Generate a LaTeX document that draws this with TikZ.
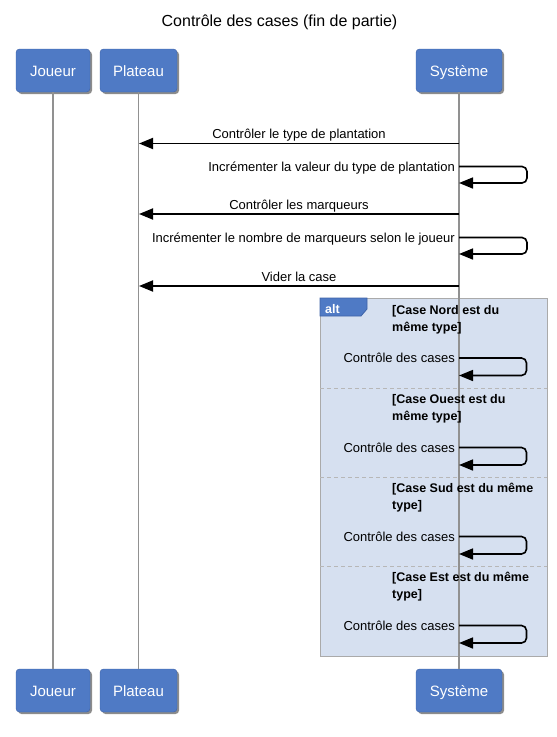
\documentclass[tikz,border=0pt]{standalone}
\usepackage{fontspec}
\setmainfont{Liberation Sans}
\usetikzlibrary{arrows.meta,shadows}
\definecolor{partblue}{RGB}{79,122,197}
\definecolor{partborder}{RGB}{62,99,168}
\definecolor{framefill}{RGB}{214,224,240}
\definecolor{frameline}{RGB}{170,170,170}
\definecolor{lifegray}{RGB}{145,145,145}
\tikzset{
  part/.style={draw=partborder, fill=partblue, rounded corners=3.5pt, text=white,
    font=\fontsize{15}{18}\selectfont, minimum height=43pt, inner sep=0pt, text depth=0pt, text height=11pt,
    drop shadow={shadow xshift=2pt, shadow yshift=-2pt, opacity=0.45, fill=black}},
  life/.style={draw=lifegray, line width=1.7pt},
  msg/.style={line width=1.8pt, -{Triangle[length=14pt,width=11pt]}},
  selfmsg/.style={line width=1.6pt, rounded corners=5pt, -{Triangle[length=14pt,width=11pt]}},
  lbl/.style={font=\fontsize{13}{15}\selectfont, inner sep=0pt, anchor=base},
  slbl/.style={font=\fontsize{13}{15}\selectfont, inner sep=0pt, anchor=base east},
  guard/.style={font=\bfseries\fontsize{12.5}{17}\selectfont, inner sep=0pt, anchor=base west, align=left},
  sepline/.style={draw=frameline!85, line width=1pt, dash pattern=on 4pt off 3pt},
}
\begin{document}
\begin{tikzpicture}[x=1pt,y=-1pt]
\useasboundingbox (0,0) rectangle (557,737);
% title
\node[font=\fontsize{16}{19}\selectfont, inner sep=0pt, anchor=base] (title) at (279.5,26) {Contrôle des cases (fin de partie)};
% participants
\node[part, minimum width=74pt] (jT) at (53,70.5) {Joueur};
\node[part, minimum width=77pt] (pT) at (138.5,70.5) {Plateau};
\node[part, minimum width=86pt] (sT) at (459,70.5) {Système};
\node[part, minimum width=74pt] (jB) at (53,690.5) {Joueur};
\node[part, minimum width=77pt] (pB) at (138.5,690.5) {Plateau};
\node[part, minimum width=86pt] (sB) at (459,690.5) {Système};
% alt frame
\node[draw=frameline, fill=framefill, line width=1pt, minimum width=227pt, minimum height=358pt,
      inner sep=0pt, anchor=north west] (altframe) at (320,298) {};
\draw[sepline] (320,388) -- (547,388);
\draw[sepline] (320,477) -- (547,477);
\draw[sepline] (320,566) -- (547,566);
\draw[draw=partborder, fill=partblue, line width=0.8pt]
  (altframe.north west) -- ++(47,0) -- ++(0,11) -- ++(-6,7) -- ++(-41,0) -- cycle;
\node[font=\bfseries\fontsize{12.5}{15}\selectfont, text=white, inner sep=0pt, anchor=base west] (altlbl) at (325,313) {alt};
% lifelines
\draw[life] (jT.south) -- (jB.north);
\draw[life] (pT.south) -- (pB.north);
\draw[life] (sT.south) -- (sB.north);
% messages
\coordinate (m1s) at (459,143.5); \coordinate (m1p) at (139,143.5);
\draw[msg] (m1s) -- (m1p);
\node[lbl] (l1) at (299,138.5) {Contrôler le type de plantation};

\coordinate (s1a) at (459,166.5); \coordinate (s1b) at (459,183);
\draw[selfmsg] (s1a) -- ++(68,0) -- ++(0,16.5) -- (s1b);
\node[slbl] (l2) at (455,171.5) {Incrémenter la valeur du type de plantation};

\coordinate (m2s) at (459,214); \coordinate (m2p) at (139,214);
\draw[msg] (m2s) -- (m2p);
\node[lbl] (l3) at (299,209.5) {Contrôler les marqueurs};

\coordinate (s2a) at (459,237.5); \coordinate (s2b) at (459,254);
\draw[selfmsg] (s2a) -- ++(68,0) -- ++(0,16.5) -- (s2b);
\node[slbl] (l4) at (455,242.5) {Incrémenter le nombre de marqueurs selon le joueur};

\coordinate (m3s) at (459,286); \coordinate (m3p) at (139,286);
\draw[msg] (m3s) -- (m3p);
\node[lbl] (l5) at (299,281) {Vider la case};

% alt sections
\node[guard] (g1) at (392,331) {[Case Nord est du\\même type]};
\coordinate (s3a) at (459,358); \coordinate (s3b) at (459,375.5);
\draw[selfmsg] (s3a) -- ++(67.5,0) -- ++(0,17.5) -- (s3b);
\node[slbl] (l6) at (455,362.5) {Contrôle des cases};

\node[guard] (g2) at (392,420.5) {[Case Ouest est du\\même type]};
\coordinate (s4a) at (459,447.5); \coordinate (s4b) at (459,465);
\draw[selfmsg] (s4a) -- ++(67.5,0) -- ++(0,17.5) -- (s4b);
\node[slbl] (l7) at (455,452) {Contrôle des cases};

\node[guard] (g3) at (392,509.5) {[Case Sud est du même\\type]};
\coordinate (s5a) at (459,536.5); \coordinate (s5b) at (459,554);
\draw[selfmsg] (s5a) -- ++(67.5,0) -- ++(0,17.5) -- (s5b);
\node[slbl] (l8) at (455,541) {Contrôle des cases};

\node[guard] (g4) at (392,598.5) {[Case Est est du même\\type]};
\coordinate (s6a) at (459,625.5); \coordinate (s6b) at (459,643);
\draw[selfmsg] (s6a) -- ++(67.5,0) -- ++(0,17.5) -- (s6b);
\node[slbl] (l9) at (455,630) {Contrôle des cases};
\end{tikzpicture}
\end{document}
